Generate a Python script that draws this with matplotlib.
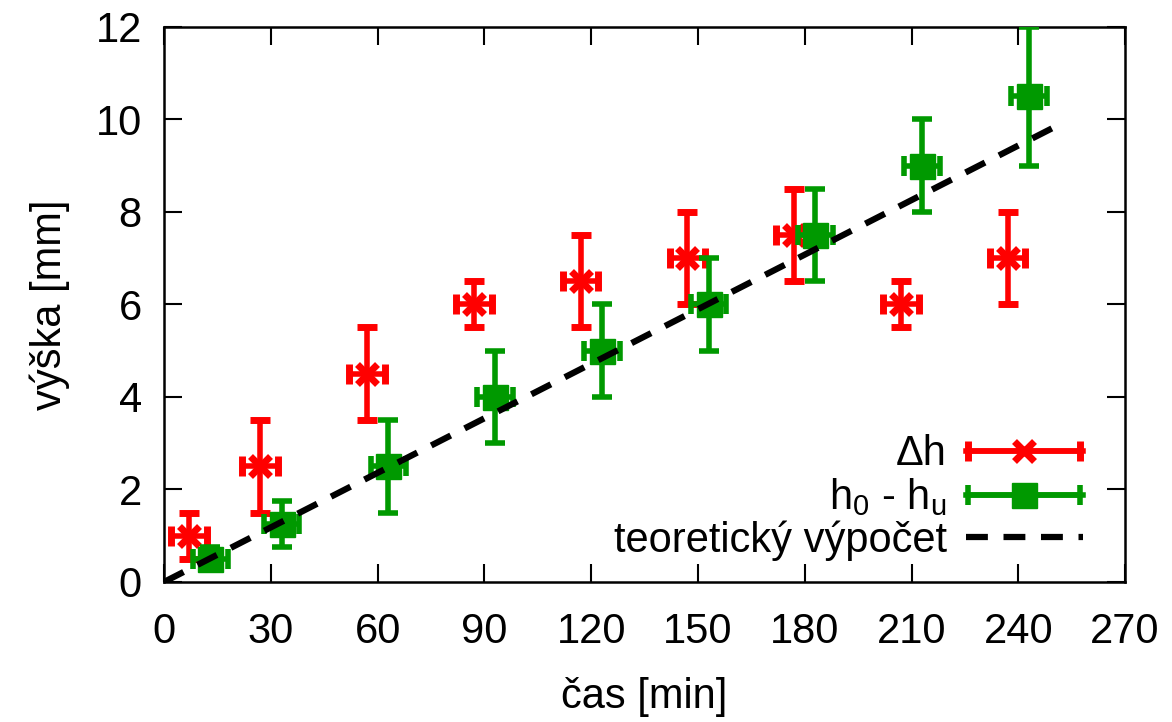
import numpy as np
import matplotlib
matplotlib.use('Agg')
import matplotlib.pyplot as plt
from matplotlib.container import ErrorbarContainer
from matplotlib.legend_handler import HandlerErrorbar

plt.rcParams['font.family'] = ['Liberation Sans', 'DejaVu Sans']
plt.rcParams['mathtext.fontset'] = 'custom'
plt.rcParams['mathtext.rm'] = 'Liberation Sans'
plt.rcParams['mathtext.it'] = 'Liberation Sans:italic'

# delta h (red)
dh_t = [7, 27, 57, 87, 117, 147, 177, 207, 237]
dh_val = [1.0, 2.5, 4.5, 6.0, 6.5, 7.0, 7.5, 6.0, 7.0]
dh_err = [0.5, 1.0, 1.0, 0.5, 1.0, 1.0, 1.0, 0.5, 1.0]

# h0 - hu (green)
hh_t = [13, 33, 63, 93, 123, 153, 183, 213, 243]
hh_val = [0.5, 1.25, 2.5, 4.0, 5.0, 6.0, 7.5, 9.0, 10.5]
hh_err = [0.25, 0.5, 1.0, 1.0, 1.0, 1.0, 1.0, 1.0, 1.5]

t_err = 5

# theoretical line
theory_t = [0, 250]
theory_k = 0.0393

RED = '#ff0000'
GREEN = '#009900'
FS = 30

fig = plt.figure(figsize=(11.72, 7.22), dpi=100)
ax = fig.add_axes([0.140, 0.194, 0.820, 0.769])

ebkw = dict(linestyle='none', elinewidth=4, capsize=7, capthick=4)
ax.errorbar(dh_t, dh_val, xerr=t_err, yerr=dh_err, fmt='x', color=RED,
            ms=15, mew=5, zorder=2, **ebkw)
ax.errorbar(hh_t, hh_val, xerr=t_err, yerr=hh_err, fmt='s', color=GREEN,
            ms=18, zorder=3, **ebkw)
tt = np.array(theory_t, dtype=float)
line, = ax.plot(tt, theory_k * tt, color='black', lw=4.5,
                linestyle=(0, (3.5, 2.5)), dash_capstyle='butt', zorder=4)

# legend proxies (horizontal bar only, like gnuplot)
h1 = ax.errorbar([np.nan], [np.nan], xerr=1, fmt='x', color=RED, ms=15,
                 mew=5, linestyle='-', lw=4, elinewidth=4, capsize=7, capthick=4)
h2 = ax.errorbar([np.nan], [np.nan], xerr=1, fmt='s', color=GREEN, ms=18,
                 linestyle='-', lw=4, elinewidth=4, capsize=7, capthick=4)
leg = ax.legend([h1, h2, line], ['Δh', 'h$\\mathregular{_0}$ - h$\\mathregular{_u}$', 'teoretický výpočet'],
                loc='lower right', bbox_to_anchor=(0.973, 0.008), frameon=False,
                markerfirst=False, fontsize=FS, handlelength=2.8, handletextpad=0.45,
                labelspacing=0.05, borderaxespad=0, numpoints=1,
                handler_map={ErrorbarContainer: HandlerErrorbar(xerr_size=1.35)})

ax.set_xlim(0, 270)
ax.set_ylim(0, 12)
ax.set_xticks(np.arange(0, 271, 30))
ax.set_yticks(np.arange(0, 13, 2))
ax.tick_params(direction='in', length=13, width=1.5, labelsize=FS,
               top=True, right=True, pad=16)
ax.tick_params(axis='x', pad=22)
for s in ax.spines.values():
    s.set_linewidth(1.8)

ax.set_xlabel('čas [min]', fontsize=FS, labelpad=18)
ax.set_ylabel('výška [mm]', fontsize=FS, labelpad=18)

fig.savefig('out.png', dpi=100)
